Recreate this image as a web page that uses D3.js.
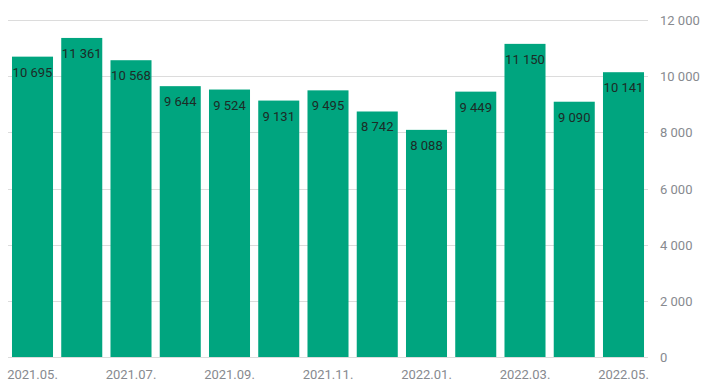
<!DOCTYPE html>
<html>
<head>
<meta charset="utf-8">
<script src="https://cdn.jsdelivr.net/npm/d3@7"></script>
<style>
  body { margin: 0; background: #fff; }
  text { font-family: Roboto, "Noto Sans", sans-serif; }
</style>
</head>
<body>
<script>
var months = ["2021.05.", "2021.06.", "2021.07.", "2021.08.", "2021.09.", "2021.10.", "2021.11.",
  "2021.12.", "2022.01.", "2022.02.", "2022.03.", "2022.04.", "2022.05."];
var values = [10695, 11361, 10568, 9644, 9524, 9131, 9495, 8742, 8088, 9449, 11150, 9090, 10141];
var yTicks = [0, 2000, 4000, 6000, 8000, 10000, 12000];

var width = 703, height = 381;
var locale = d3.formatLocale({ decimal: ",", thousands: " ", grouping: [3], currency: ["", ""] });
var format = locale.format(",d");

var svg = d3.select("body").append("svg")
  .attr("width", width)
  .attr("height", height);

var x = d3.scaleBand()
  .domain(months)
  .range([8, 648])
  .paddingInner(0.167)
  .paddingOuter(0.081);

var y = d3.scaleLinear()
  .domain([0, 12000])
  .range([357, 20]);

// grid
svg.append("g").selectAll("line")
  .data(yTicks)
  .enter().append("line")
  .attr("x1", 8)
  .attr("x2", 648)
  .attr("y1", function(d) { return Math.round(y(d)) + 0.5; })
  .attr("y2", function(d) { return Math.round(y(d)) + 0.5; })
  .attr("stroke", "#dcdcdc")
  .attr("stroke-width", 1);

// y labels on the right
svg.append("g").selectAll("text")
  .data(yTicks)
  .enter().append("text")
  .attr("x", 660)
  .attr("y", function(d) { return y(d) + 5; })
  .attr("fill", "#878a8f")
  .style("font-size", "13px")
  .text(function(d) { return format(d); });

// bars
svg.append("g").selectAll("rect")
  .data(values)
  .enter().append("rect")
  .attr("x", function(d, i) { return x(months[i]); })
  .attr("width", x.bandwidth())
  .attr("y", function(d) { return y(d); })
  .attr("height", function(d) { return y(0) - y(d); })
  .attr("fill", "#00a57f");

// value labels
svg.append("g").selectAll("text")
  .data(values)
  .enter().append("text")
  .attr("x", function(d, i) { return x(months[i]) + x.bandwidth() / 2; })
  .attr("y", function(d) { return y(d) + 20; })
  .attr("text-anchor", "middle")
  .attr("fill", "#1d2b26")
  .style("font-size", "13px")
  .text(function(d) { return format(d); });

// x labels, every other month
svg.append("g").selectAll("text")
  .data(months.filter(function(d, i) { return i % 2 === 0; }))
  .enter().append("text")
  .attr("x", function(d) { return x(d) + x.bandwidth() / 2; })
  .attr("y", 379)
  .attr("text-anchor", "middle")
  .attr("fill", "#878a8f")
  .style("font-size", "13px")
  .text(function(d) { return d; });
</script>
</body>
</html>
